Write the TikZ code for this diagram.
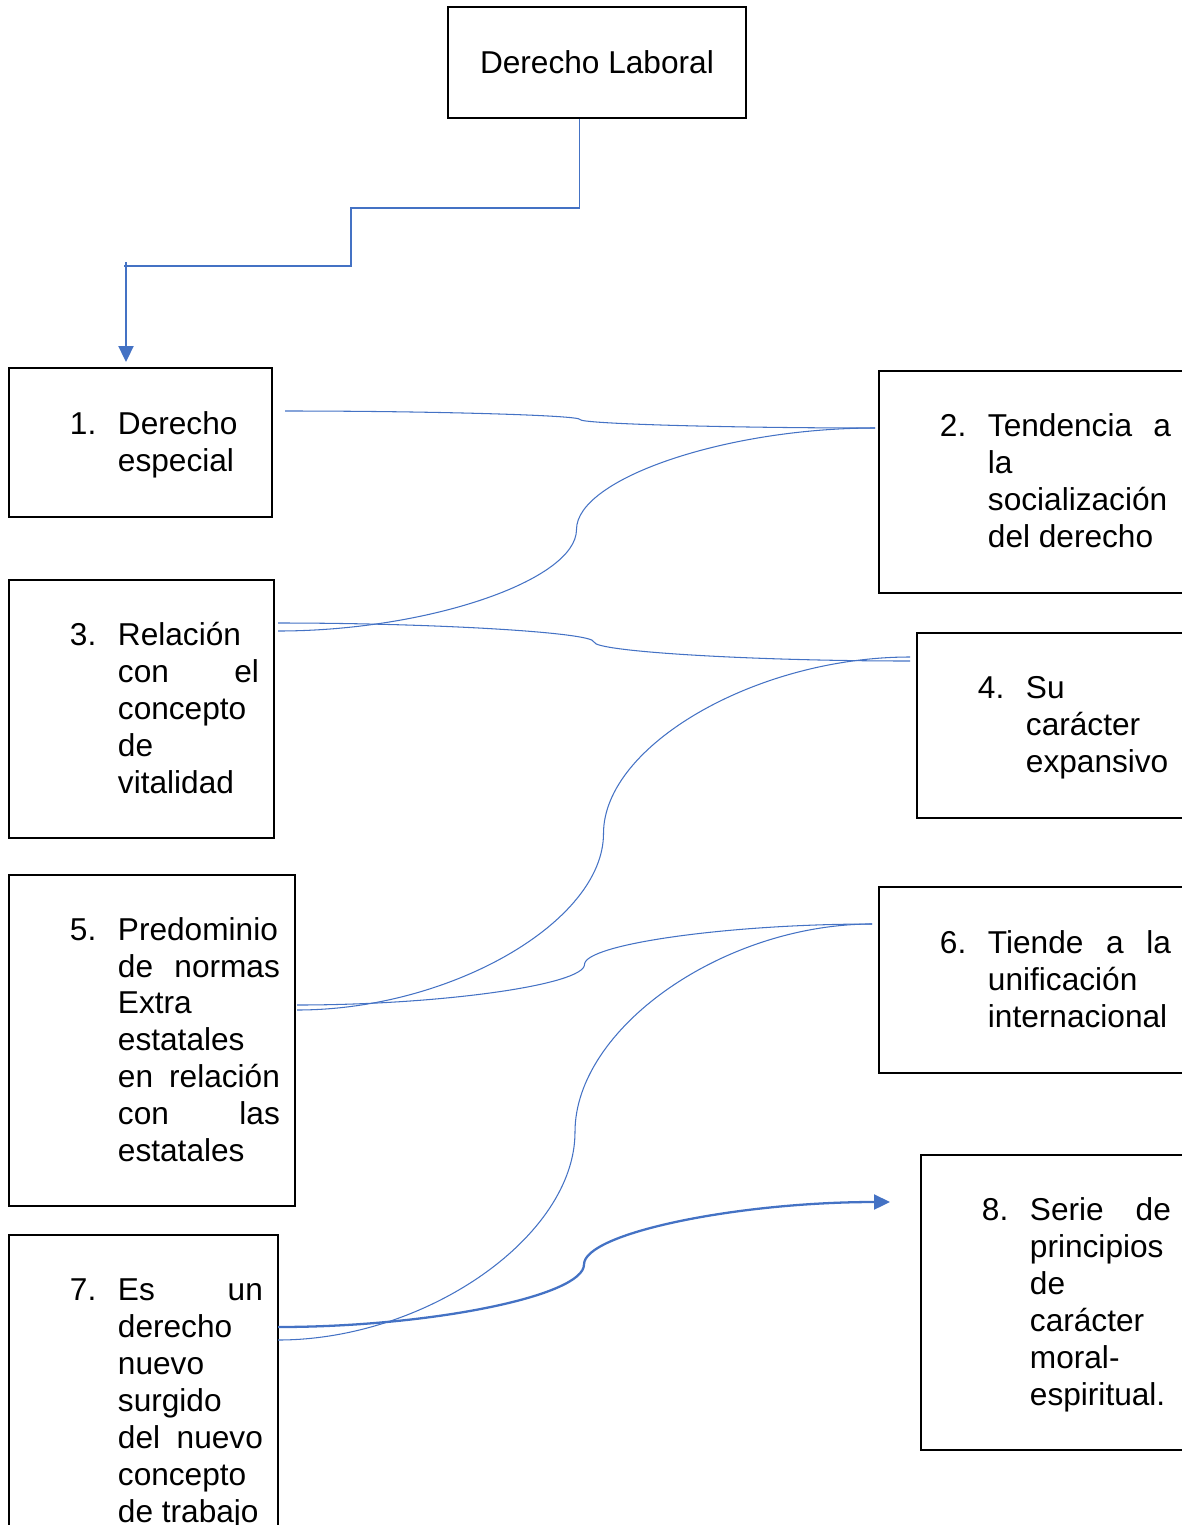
\documentclass[tikz,border=0pt]{standalone}
\usepackage{fontspec,array}
\setmainfont{Liberation Sans}
\usepackage{tikz}
\usetikzlibrary{arrows.meta,calc}
\definecolor{azul}{HTML}{4472C4}
\newcommand{\itemcaja}[3]{\raisebox{-0.06cm}[\height][\depth]{\begin{tabular}{@{\hspace{0.92cm}}p{0.96cm}@{}>{\hyphenpenalty=10000\exhyphenpenalty=10000}p{#1}@{}}#2&#3\end{tabular}}}
\tikzset{
  caja/.style={draw=black,line width=1.1pt,inner sep=0pt,anchor=north west,font=\fontsize{18}{21}\selectfont},
  linea/.style={azul,line width=0.6pt},
  flecha/.style={-{Triangle[length=3.2mm,width=3mm]},azul,line width=1.3pt},
  scurve/.style={to path={
    let \p1=(\tikztostart), \p2=(\tikztotarget), \p3=($(\p1)!.5!(\p2)$),
        \p4=($(\x3,\y1)!.5!(\p3)$), \p5=($(\p3)!.5!(\x3,\y2)$) in
    .. controls ($(\p1)!.5!(\x3,\y1)$) and (\p4) .. (\p3)
    .. controls (\p5) and ($(\x3,\y2)!.5!(\p2)$) .. (\p2) \tikztonodes}}
}
\begin{document}
\begin{tikzpicture}[x=0.02cm,y=-0.02cm]
  \useasboundingbox (0,0) rectangle (1182,1525);
  \clip (0,0) rectangle (1182,1525);

  \node[caja,minimum width=5.96cm,minimum height=2.22cm] (n0) at (447,6) {Derecho Laboral};
  \node[caja,minimum width=5.26cm,minimum height=2.98cm] (n1) at (8,367)
    {\itemcaja{2.78cm}{1.}{Derecho\newline especial}};
  \node[caja,minimum width=6.14cm,minimum height=4.44cm] (n2) at (878,370)
    {\itemcaja{3.66cm}{2.}{Tendencia\hfill a\newline la\newline socialización\newline del derecho}};
  \node[caja,minimum width=5.30cm,minimum height=5.16cm] (n3) at (8,579)
    {\itemcaja{2.82cm}{3.}{Relación\newline con\hfill el\newline concepto\newline de\newline vitalidad}};
  \node[caja,minimum width=5.38cm,minimum height=3.70cm] (n4) at (916,632)
    {\itemcaja{2.90cm}{4.}{Su\newline carácter\newline expansivo}};
  \node[caja,minimum width=5.72cm,minimum height=6.62cm] (n5) at (8,874)
    {\itemcaja{3.24cm}{5.}{Predominio\newline de\hfill normas\newline Extra\newline estatales\newline en\hfill relación\newline con\hfill las\newline estatales}};
  \node[caja,minimum width=6.14cm,minimum height=3.72cm] (n6) at (878,886)
    {\itemcaja{3.66cm}{6.}{Tiende\hfill a\hfill la\newline unificación\newline internacional}};
  \node[caja,minimum width=5.38cm,minimum height=6.64cm] (n7) at (8,1234)
    {\itemcaja{2.90cm}{7.}{Es\hfill un\newline derecho\newline nuevo\newline surgido\newline del\hfill nuevo\newline concepto\newline de trabajo}};
  \node[caja,minimum width=5.30cm,minimum height=5.90cm] (n8) at (920,1154)
    {\itemcaja{2.82cm}{8.}{Serie\hfill de\newline principios\newline de\newline carácter\newline moral-\newline espiritual.}};

  % conector de la caja superior
  \coordinate (k1) at (351,208);
  \coordinate (k2) at (124,266);
  \coordinate (a0) at (126,262);
  \draw[linea] ([xshift=-0.34cm]n0.south) |- (k1) |- (k2);
  \draw[flecha,shorten >=0.1cm] (a0) -- (a0 |- n1.north);

  % puntos de las curvas
  \coordinate (p1a) at (285,411);
  \coordinate (p3a) at (278,623);
  \coordinate (p3b) at (278,631);
  \coordinate (p5a) at (297,1005);
  \coordinate (p5b) at (297,1010);
  \coordinate (p7a) at (278,1327);
  \coordinate (p7b) at (278,1340);
  \coordinate (q2) at (875,428);
  \coordinate (q4a) at (910,661);
  \coordinate (q4b) at (910,657);
  \coordinate (q6) at (872,924);
  \coordinate (q8) at (890,1202);

  \draw[linea] (p1a) to[scurve] (q2);
  \draw[linea] (p3b) to[scurve] (q2);
  \draw[linea] (p3a) to[scurve] (q4a);
  \draw[linea] (p5b) to[scurve] (q4b);
  \draw[linea] (p5a) to[scurve] (q6);
  \draw[linea] (p7b) to[scurve] (q6);
  \draw[flecha] (p7a) to[scurve] (q8);
\end{tikzpicture}
\end{document}
